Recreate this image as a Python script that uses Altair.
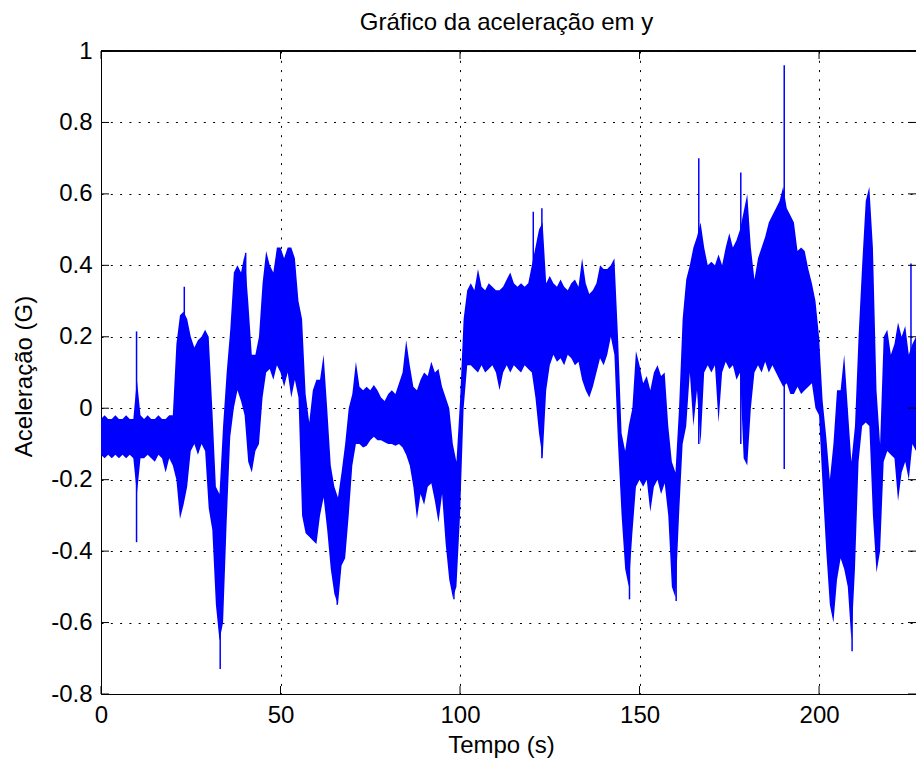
import altair as alt
import pandas as pd

# ---- data (1 s envelope of the noisy signal) ----
TIME = list(range(228))
UPPER = [
    -0.03, -0.02, -0.03, -0.03, -0.02, -0.03, -0.03, -0.02, -0.03, -0.03,  # 0-9
    0.08, -0.02, -0.03, -0.02, -0.03, -0.03, -0.02, -0.03, -0.03, -0.02,  # 10-19
    -0.02, 0.18, 0.26, 0.27, 0.25, 0.20, 0.17, 0.19, 0.20, 0.22,  # 20-29
    0.20, 0.00, -0.22, -0.24, -0.05, 0.10, 0.22, 0.38, 0.40, 0.38,  # 30-39
    0.43, 0.30, 0.15, 0.15, 0.20, 0.35, 0.44, 0.40, 0.38, 0.45,  # 40-49
    0.45, 0.42, 0.45, 0.45, 0.42, 0.30, 0.25, 0.04, -0.04, 0.05,  # 50-59
    0.08, 0.08, 0.15, 0.00, -0.16, -0.22, -0.25, -0.18, -0.10, 0.00,  # 60-69
    0.04, 0.13, 0.06, 0.05, 0.06, 0.05, 0.065, 0.05, 0.03, 0.02,  # 70-79
    0.04, 0.05, 0.04, 0.07, 0.10, 0.19, 0.12, 0.06, 0.05, 0.08,  # 80-89
    0.10, 0.09, 0.13, 0.10, 0.11, 0.06, 0.03, 0.00, -0.10, -0.15,  # 90-99
    0.02, 0.25, 0.33, 0.35, 0.33, 0.39, 0.34, 0.33, 0.35, 0.34,  # 100-109
    0.33, 0.33, 0.34, 0.36, 0.38, 0.35, 0.34, 0.35, 0.34, 0.35,  # 110-119
    0.40, 0.45, 0.50, 0.52, 0.35, 0.37, 0.35, 0.34, 0.36, 0.34,  # 120-129
    0.33, 0.35, 0.36, 0.34, 0.42, 0.35, 0.32, 0.33, 0.35, 0.40,  # 130-139
    0.39, 0.39, 0.40, 0.42, 0.20, -0.07, -0.12, -0.05, 0.00, 0.16,  # 140-149
    0.12, 0.07, 0.09, 0.05, 0.10, 0.12, 0.09, 0.10, -0.05, -0.15,  # 150-159
    -0.18, 0.00, 0.25, 0.36, 0.40, 0.45, 0.48, 0.52, 0.45, 0.40,  # 160-169
    0.41, 0.40, 0.43, 0.40, 0.45, 0.49, 0.45, 0.47, 0.50, 0.55,  # 170-179
    0.60, 0.45, 0.36, 0.42, 0.45, 0.48, 0.52, 0.54, 0.56, 0.58,  # 180-189
    0.62, 0.56, 0.54, 0.52, 0.44, 0.45, 0.44, 0.39, 0.35, 0.30,  # 190-199
    0.20, 0.02, -0.08, -0.20, -0.10, 0.05, 0.05, 0.15, 0.00, -0.15,  # 200-209
    -0.05, 0.20, 0.40, 0.58, 0.62, 0.45, 0.05, -0.10, 0.20, 0.22,  # 210-219
    0.15, 0.18, 0.24, 0.20, 0.23, 0.15, 0.18, 0.20,  # 220-227
]
LOWER = [
    -0.13, -0.14, -0.13, -0.14, -0.13, -0.14, -0.13, -0.14, -0.13, -0.14,
    -0.24, -0.14, -0.14, -0.13, -0.14, -0.15, -0.13, -0.14, -0.18, -0.14,
    -0.16, -0.20, -0.31, -0.27, -0.22, -0.12, -0.10, -0.13, -0.10, -0.12,
    -0.28, -0.34, -0.55, -0.65, -0.60, -0.32, -0.08, 0.00, 0.05, 0.02,
    -0.02, -0.15, -0.18, -0.12, -0.10, 0.03, 0.10, 0.11, 0.08, 0.12,
    0.10, 0.06, 0.10, 0.03, 0.08, 0.03, -0.30, -0.35, -0.36, -0.37,
    -0.38, -0.30, -0.25, -0.34, -0.45, -0.52, -0.55, -0.44, -0.42, -0.30,
    -0.16, -0.10, -0.10, -0.11, -0.105, -0.09, -0.08, -0.09, -0.09, -0.095,
    -0.10, -0.10, -0.105, -0.10, -0.11, -0.13, -0.16, -0.22, -0.31, -0.24,
    -0.27, -0.22, -0.21, -0.26, -0.32, -0.24, -0.38, -0.48, -0.53, -0.50,
    -0.30, 0.00, 0.12, 0.12, 0.11, 0.10, 0.12, 0.10, 0.11, 0.12,
    0.10, 0.05, 0.10, 0.12, 0.10, 0.12, 0.11, 0.10, 0.12, 0.11,
    0.10, 0.03, -0.07, -0.14, 0.05, 0.12, 0.15, 0.13, 0.14, 0.12,
    0.15, 0.14, 0.12, 0.13, 0.08, 0.05, 0.03, 0.06, 0.10, 0.14,
    0.12, 0.15, 0.20, 0.15, -0.10, -0.30, -0.45, -0.50, -0.35, -0.22,
    -0.20, -0.22, -0.20, -0.29, -0.22, -0.20, -0.24, -0.21, -0.30, -0.50,
    -0.53, -0.30, -0.10, -0.05, 0.10, -0.05, 0.05, -0.10, 0.10, 0.12,
    0.10, 0.12, -0.04, 0.10, 0.13, 0.11, 0.12, 0.08, 0.10, -0.14,
    -0.16, 0.00, 0.10, 0.12, 0.10, 0.13, 0.10, 0.12, 0.10, 0.08,
    0.06, 0.07, 0.04, 0.04, 0.06, 0.04, 0.05, 0.06, 0.07, 0.00,
    -0.02, -0.22, -0.40, -0.55, -0.60, -0.48, -0.42, -0.45, -0.50, -0.65,
    -0.45, -0.15, -0.05, -0.04, -0.05, -0.30, -0.46, -0.40, -0.15, -0.12,
    -0.13, -0.14, -0.26, -0.18, -0.15, -0.20, -0.10, -0.12,
]
# isolated narrow spikes (time, low, high)
SPIKE_T = [9.9, 23.2, 33.2, 40.3, 65.8, 98.3, 120.4, 122.8, 147.2, 160.2,
           166.5, 178.2, 190.3, 209.2, 225.6]
SPIKE_LOW = [-0.375, -0.25, -0.73, 0.0, -0.55, -0.535, 0.10, -0.14, -0.535, -0.54,
             -0.10, -0.10, -0.17, -0.68, -0.10]
SPIKE_HIGH = [0.215, 0.34, -0.50, 0.435, -0.30, -0.30, 0.55, 0.56, -0.30, -0.30,
              0.70, 0.66, 0.96, -0.40, 0.405]

X_TICKS = [0, 50, 100, 150, 200]
Y_TICKS = [-0.8, -0.6, -0.4, -0.2, 0, 0.2, 0.4, 0.6, 0.8, 1]
TITLE = "Gráfico da aceleração em y"
X_LABEL = "Tempo (s)"
Y_LABEL = "Aceleração (G)"

W, H = 815, 643
FONT = "Liberation Sans"
FS = 24
BLUE = "#0000ff"

df = pd.DataFrame({"t": TIME, "hi": UPPER, "lo": LOWER})
spikes = pd.DataFrame({"t": SPIKE_T, "lo": SPIKE_LOW, "hi": SPIKE_HIGH})
xt = pd.DataFrame({"t": X_TICKS})
yt = pd.DataFrame({"lo": Y_TICKS})

xscale = alt.Scale(domain=[0, 227], nice=False, zero=False)
yscale = alt.Scale(domain=[-0.8, 1], nice=False, zero=False)

x_axis = alt.Axis(
    values=X_TICKS, title=X_LABEL, grid=True, gridDash=[2, 7.3],
    labelPadding=9, titleX=400, titleY=58, titleBaseline="alphabetic", titleAlign="center",
)
y_axis = alt.Axis(
    values=Y_TICKS, title=Y_LABEL, grid=True, gridDash=[2, 7.3],
    labelPadding=9,
    labelExpr="abs(datum.value) < 1e-9 ? '0' : toString(round(datum.value * 10) / 10)",
    titleX=-70, titleY=325, titleAngle=-90, titleBaseline="alphabetic", titleAlign="center",
)

X = alt.X("t:Q", scale=xscale, axis=x_axis)
Y = alt.Y("lo:Q", scale=yscale, axis=y_axis)

band = alt.Chart(df).mark_area(color=BLUE, opacity=1, clip=True, interpolate="linear").encode(
    x=X, y=Y, y2="hi:Q",
)

spike_rules = alt.Chart(spikes).mark_rule(color=BLUE, strokeWidth=1.5, clip=True).encode(
    x=X, y=Y, y2="hi:Q",
)

tick_bottom = alt.Chart(xt).mark_rule(color="black", strokeWidth=1).encode(
    x=X, y=alt.value(H), y2=alt.value(H - 8)
)
tick_top = alt.Chart(xt).mark_rule(color="black", strokeWidth=1).encode(
    x=X, y=alt.value(0), y2=alt.value(8)
)
tick_left = alt.Chart(yt).mark_rule(color="black", strokeWidth=1).encode(
    y=Y, x=alt.value(0), x2=alt.value(8)
)
tick_right = alt.Chart(yt).mark_rule(color="black", strokeWidth=1).encode(
    y=Y, x=alt.value(W - 8), x2=alt.value(W)
)
top_border = alt.Chart(xt).mark_rule(color="black", strokeWidth=1).encode(
    x=alt.value(0), x2=alt.value(W), y=alt.value(0)
)

title = alt.Chart(pd.DataFrame({"s": [TITLE]})).mark_text(
    font=FONT, fontSize=FS, color="black", align="center", baseline="alphabetic"
).encode(text="s:N", x=alt.value(405.5), y=alt.value(-21))

chart = alt.layer(
    band, spike_rules, tick_bottom, tick_top, tick_left, tick_right, top_border, title
).properties(
    width=W, height=H,
    autosize=alt.AutoSizeParams(type="none"),
    padding={"left": 101, "top": 51, "right": 0, "bottom": 73},
).configure_view(stroke=None).configure(background="white").configure_axis(
    gridColor="#000000", gridOpacity=1, gridWidth=1,
    ticks=False, tickSize=0,
    labelFont=FONT, labelFontSize=FS, labelColor="black",
    labelFlush=False, labelOverlap=False, labelBound=False,
    titleFont=FONT, titleFontSize=FS, titleFontWeight="normal", titleColor="black",
    domainColor="black", domainWidth=1, domainOpacity=1,
)

chart.save("out.html", embed_options={"renderer": "svg", "actions": False})
